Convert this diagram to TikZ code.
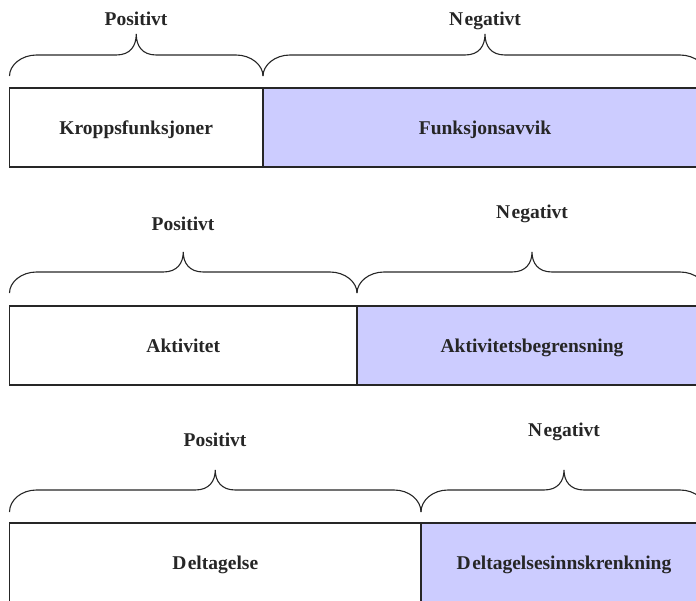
\documentclass[tikz,border=0pt]{standalone}
\usepackage{fontspec}
\setmainfont{Liberation Serif}
\definecolor{negfill}{RGB}{204,204,255}
\definecolor{ink}{RGB}{38,38,38}
\newcommand\mybrace[5]{% x0, x1, y of ends, y of flat part, y of tip
  \pgfmathsetmacro\xm{(#1+#2)/2}
  \draw[brc] (#1,#3) .. controls (#1,{#4+10}) and ({#1+12},#4) .. ({#1+27},#4)
    -- ({\xm-20},#4) .. controls ({\xm-6},#4) and (\xm,{#4-9}) .. (\xm,#5)
    .. controls (\xm,{#4-9}) and ({\xm+6},#4) .. ({\xm+20},#4)
    -- ({#2-27},#4) .. controls ({#2-12},#4) and (#2,{#4+10}) .. (#2,#3);
}
\begin{document}
\begin{tikzpicture}[x=1pt,y=-1pt,
  txt/.style={font=\bfseries\fontsize{19.5}{23}\selectfont, text=ink,
    text height=13pt, text depth=0pt, inner sep=0pt},
  box/.style={txt, draw=ink, line width=1.3pt, anchor=north west,
    minimum height=79pt, outer sep=0pt},
  posbox/.style={box, fill=white},
  negbox/.style={box, fill=negfill},
  brc/.style={draw=ink, line width=1.1pt}]
\useasboundingbox (0,0) rectangle (696,600);
\clip (0,0) rectangle (696,600);
% ---------- row 1
\node[posbox, minimum width=253.5pt] (kf) at (9.5,88) {Kroppsfunksjoner};
\node[negbox, minimum width=444pt] (fa) at (263,88) {\hspace*{-1pt}Funksjonsavvik\hspace*{-1pt}};
\mybrace{9.5}{263}{76}{55}{34}
\mybrace{263}{707}{76}{55}{34}
\node[txt] (p1) at (136,18.5) {Positivt};
\node[txt] (n1) at (485,18.5) {N\kern1.5pt egativt};
% ---------- row 2
\node[posbox, minimum width=347.5pt] (ak) at (9.5,306) {Aktivitet};
\node[negbox, minimum width=350pt] (ab) at (357,306) {Aktivitetsbegrensning};
\mybrace{9.5}{357}{293}{272}{252}
\mybrace{357}{707}{293}{272}{252}
\node[txt] (p2) at (183,223.5) {Positivt};
\node[txt] (n2) at (532,211.5) {N\kern1.5pt egativt};
% ---------- row 3
\node[posbox, minimum width=411.5pt] (dt) at (9.5,523) {D\kern1.5pt eltagelse};
\node[negbox, minimum width=286pt] (di) at (421,523) {D\kern1.5pt eltagelsesinnskrenkning};
\mybrace{9.5}{421}{512}{490}{470}
\mybrace{421}{707}{512}{490}{470}
\node[txt] (p3) at (215,440) {Positivt};
\node[txt] (n3) at (564,429.5) {N\kern1.5pt egativt};
\end{tikzpicture}
\end{document}
